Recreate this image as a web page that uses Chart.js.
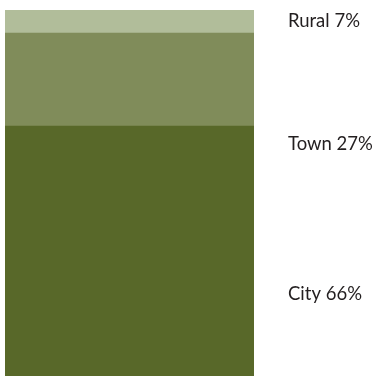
<!DOCTYPE html>
<html>
<head>
<meta charset="utf-8">
<script src="https://cdn.jsdelivr.net/npm/chart.js@4"></script>
<style>
  html, body { margin: 0; padding: 0; background: #fff; }
  #chart { display: block; }
</style>
</head>
<body>
<canvas id="chart" width="378" height="376"></canvas>
<script>
// segments, bottom to top
const categories = ['City', 'Town', 'Rural'];
const shares = [68.3, 25.4, 6.3];           // drawn heights
const labelText = ['City 66%', 'Town 27%', 'Rural 7%'];
const colors = ['#586829', '#808c5a', '#b1bd9a'];

// where each label sits, in y-axis units (percent from bottom)
const labelAt = [22.3, 63.5, 97.0];

const sideLabels = {
    id: 'sideLabels',
    afterDraw(chart) {
        const ctx = chart.ctx;
        const y = chart.scales.y;
        const x0 = chart.chartArea.right + 34;
        ctx.save();
        ctx.fillStyle = '#231f20';
        ctx.font = '18.5px Lato';
        ctx.textBaseline = 'middle';
        labelText.forEach((t, i) => {
            ctx.fillText(t, x0, y.getPixelForValue(labelAt[i]));
        });
        ctx.restore();
    }
};

new Chart(document.getElementById('chart').getContext('2d'), {
    type: 'bar',
    data: {
        labels: [''],
        datasets: categories.map((c, i) => ({
            label: c,
            data: [shares[i]],
            backgroundColor: colors[i],
            borderWidth: 0,
            barPercentage: 1,
            categoryPercentage: 1
        }))
    },
    options: {
        responsive: false,
        animation: false,
        layout: { padding: { top: 10, left: 5, right: 124, bottom: 0 } },
        plugins: {
            legend: { display: false },
            tooltip: { enabled: false }
        },
        scales: {
            x: { stacked: true, display: false },
            y: { stacked: true, display: false, min: 0, max: 100 }
        }
    },
    plugins: [sideLabels]
});
</script>
</body>
</html>
